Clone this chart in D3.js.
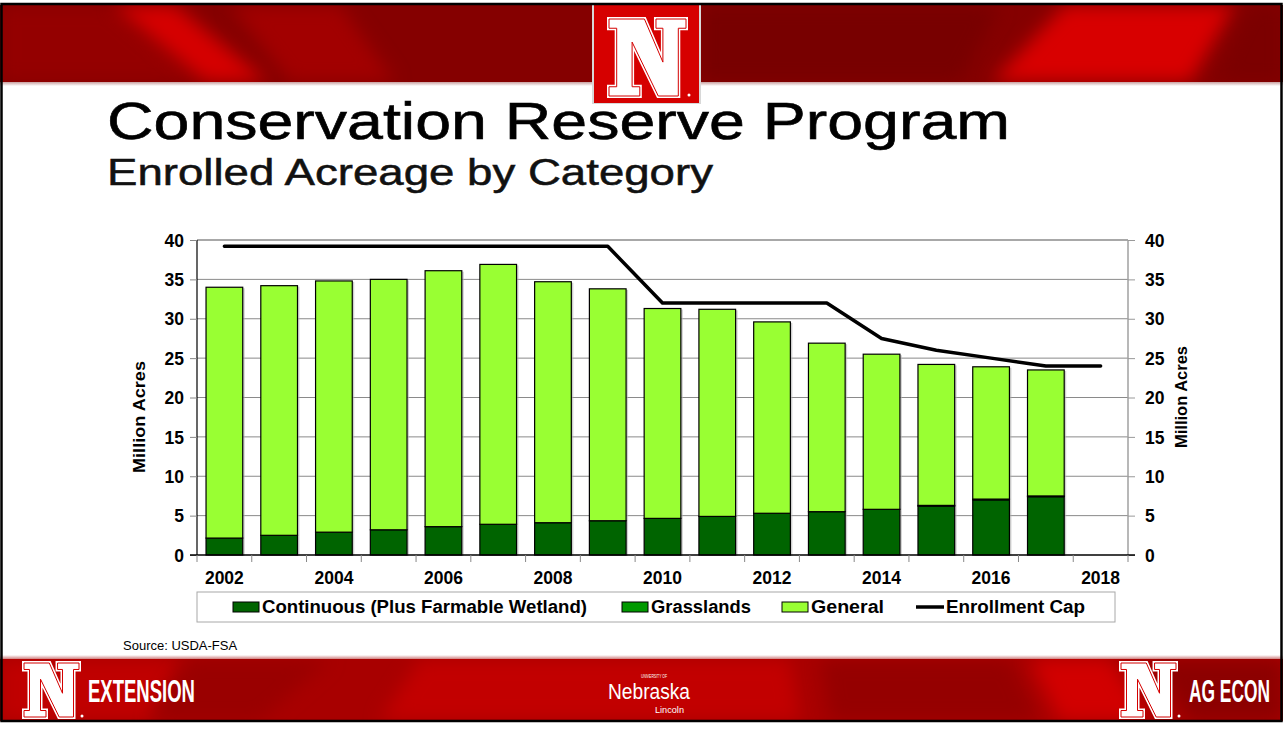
<!DOCTYPE html>
<html><head><meta charset="utf-8">
<script src="https://cdn.jsdelivr.net/npm/d3@7"></script>
<style>
body{margin:0;background:#fff}
svg{display:block}
text{font-family:Arial,"Liberation Sans",sans-serif}
</style>
</head><body>
<svg id="c" width="1283" height="729"></svg>
<script>
// ---------------- data ----------------
const years = ["2002","2003","2004","2005","2006","2007","2008","2009","2010","2011","2012","2013","2014","2015","2016","2017","2018"];
const continuous = [2.15,2.5,2.9,3.2,3.6,3.9,4.1,4.35,4.65,4.9,5.3,5.5,5.8,6.2,7.0,7.4,0];
const grasslands = [0,0,0,0,0,0,0,0,0,0,0,0,0,0.1,0.1,0.1,0];
const general    = [31.85,31.7,31.9,31.8,32.5,33.0,30.6,29.45,26.65,26.3,24.3,21.4,19.7,17.9,16.8,16.0,0];
const enrollmentCap = [39.2,39.2,39.2,39.2,39.2,39.2,39.2,39.2,32,32,32,32,27.5,26,25,24,24];
const yTicks = [0,5,10,15,20,25,30,35,40];
const xTickLabels = ["2002","2004","2006","2008","2010","2012","2014","2016","2018"];
const seriesNames = ["Continuous (Plus Farmable Wetland)","Grasslands","General","Enrollment Cap"];
const seriesColors = ["#006400","#009900","#99ff33","#000000"];

const svg = d3.select("#c");
const W = 1283, H = 729;

// ---------------- defs ----------------
const defs = svg.append("defs");
const blur = defs.append("filter").attr("id","blur").attr("x","-50%").attr("y","-50%").attr("width","200%").attr("height","200%");
blur.append("feGaussianBlur").attr("stdDeviation",9);
defs.append("clipPath").attr("id","hclip").append("rect").attr("x",0).attr("y",5).attr("width",W).attr("height",77);
defs.append("clipPath").attr("id","fclip").append("rect").attr("x",0).attr("y",659).attr("width",W).attr("height",62);
const shade = defs.append("linearGradient").attr("id","hshade").attr("x1",0).attr("y1",0).attr("x2",0).attr("y2",1);
shade.append("stop").attr("offset",0).attr("stop-color","#c9a0a0");
shade.append("stop").attr("offset",1).attr("stop-color","#ffffff");
const fshade = defs.append("linearGradient").attr("id","fshade").attr("x1",0).attr("y1",0).attr("x2",0).attr("y2",1);
fshade.append("stop").attr("offset",0).attr("stop-color","#ffffff");
fshade.append("stop").attr("offset",1).attr("stop-color","#d08080");

// ---------------- header banner ----------------
const hdr = svg.append("g").attr("clip-path","url(#hclip)");
hdr.append("rect").attr("x",0).attr("y",5).attr("width",W).attr("height",77).attr("fill","#850000");
const hpolys = [
  {p:[[0,5],[110,5],[200,82],[0,82]], c:"#940000"},
  {p:[[112,5],[175,5],[268,82],[205,82]], c:"#d60000"},
  {p:[[230,5],[340,5],[395,82],[290,82]], c:"#a20000"},
  {p:[[700,5],[1000,5],[960,82],[700,82]], c:"#780000"},
  {p:[[1065,5],[1235,5],[1190,82],[992,82]], c:"#d80000"},
  {p:[[1250,5],[1283,5],[1283,82],[1215,82]], c:"#7c0000"}
];
hdr.selectAll("polygon").data(hpolys).join("polygon")
  .attr("points",d=>d.p.map(q=>q.join(",")).join(" "))
  .attr("fill",d=>d.c).attr("filter","url(#blur)");
svg.append("rect").attr("x",0).attr("y",82).attr("width",W).attr("height",4).attr("fill","url(#hshade)");

// ---------------- footer banner ----------------
const ftr = svg.append("g").attr("clip-path","url(#fclip)");
ftr.append("rect").attr("x",0).attr("y",659).attr("width",W).attr("height",62).attr("fill","#a80000");
const fpolys = [
  {p:[[0,659],[180,659],[150,721],[0,721]], c:"#c00000"},
  {p:[[190,659],[330,659],[260,721],[150,721]], c:"#9a0000"},
  {p:[[420,659],[790,659],[800,721],[380,721]], c:"#c20000"},
  {p:[[820,659],[1010,659],[1040,721],[830,721]], c:"#950000"},
  {p:[[1030,659],[1110,659],[1150,721],[1060,721]], c:"#d20000"},
  {p:[[1150,659],[1283,659],[1283,721],[1190,721]], c:"#8c0000"}
];
ftr.selectAll("polygon").data(fpolys).join("polygon")
  .attr("points",d=>d.p.map(q=>q.join(",")).join(" "))
  .attr("fill",d=>d.c).attr("filter","url(#blur)");
svg.append("rect").attr("x",0).attr("y",655).attr("width",W).attr("height",4).attr("fill","url(#fshade)");

// ---------------- N logo ----------------
const nPts = [[0,0],[46,0],[70,56],[70,12],[61,12],[61,0],[100,0],[100,12],[90,12],[90,100],[64,100],[30,30],[30,88],[40,88],[40,100],[0,100],[0,88],[10,88],[10,12],[0,12]];
function drawN(g, x, y, w, h){
  const sx = w/100, sy = h/100;
  const pts = nPts.map(p=>[x+p[0]*sx, y+p[1]*sy].join(",")).join(" ");
  g.append("polygon").attr("points",pts).attr("fill","#fff").attr("stroke","#fff").attr("stroke-width",4).attr("stroke-linejoin","miter");
  g.append("polygon").attr("points",pts).attr("fill","#fff").attr("stroke","#d40000").attr("stroke-width",1);
  g.append("circle").attr("cx",x+w+3).attr("cy",y+h-1).attr("r",1.5).attr("fill","#fff");
}
// center box
svg.append("rect").attr("x",592).attr("y",3).attr("width",109).attr("height",101).attr("fill","#d8d8d8");
svg.append("rect").attr("x",594).attr("y",5).attr("width",105).attr("height",98).attr("fill","#d60000");
drawN(svg, 609, 19, 77, 77);
// footer logos
drawN(svg, 24, 663, 55, 54);
drawN(svg, 1121, 663, 55, 54);

svg.append("text").attr("transform","translate(88,702) scale(1,1.75)").attr("fill","#fff")
  .attr("font-family","Liberation Sans").attr("font-weight","bold").attr("font-size",18)
  .attr("textLength",107).attr("lengthAdjust","spacingAndGlyphs").text("EXTENSION");
svg.append("text").attr("transform","translate(1189,702) scale(1,1.75)").attr("fill","#fff")
  .attr("font-family","Liberation Sans").attr("font-weight","bold").attr("font-size",18)
  .attr("textLength",81).attr("lengthAdjust","spacingAndGlyphs").text("AG ECON");
svg.append("text").attr("x",608).attr("y",699).attr("fill","#fff")
  .attr("font-family","Liberation Serif").attr("font-size",22)
  .attr("textLength",82).attr("lengthAdjust","spacingAndGlyphs").text("Nebraska");
svg.append("text").attr("x",641).attr("y",678).attr("fill","#fff")
  .attr("font-family","Liberation Serif").attr("font-size",5)
  .attr("textLength",26).attr("lengthAdjust","spacingAndGlyphs").text("UNIVERSITY OF");
svg.append("text").attr("x",655).attr("y",713).attr("fill","#fff")
  .attr("font-family","Liberation Serif").attr("font-size",9)
  .attr("textLength",29).attr("lengthAdjust","spacingAndGlyphs").text("Lincoln");

// ---------------- frame ----------------
svg.append("rect").attr("x",1.5).attr("y",4).attr("width",1280).attr("height",717)
  .attr("fill","none").attr("stroke","#000").attr("stroke-width",2.5);

// ---------------- titles ----------------
svg.append("text").attr("x",107).attr("y",139).attr("fill","#000").attr("stroke","#000").attr("stroke-width",0.6)
  .attr("font-family","DejaVu Sans").attr("font-size",52)
  .attr("textLength",903).attr("lengthAdjust","spacingAndGlyphs").text("Conservation Reserve Program");
svg.append("text").attr("x",107).attr("y",185).attr("fill","#111").attr("stroke","#111").attr("stroke-width",0.5)
  .attr("font-family","DejaVu Sans").attr("font-size",36)
  .attr("textLength",606).attr("lengthAdjust","spacingAndGlyphs").text("Enrolled Acreage by Category");

// ---------------- chart ----------------
const L = 197, R = 1128, T = 240, B = 555;
const x = d3.scaleBand().domain(years).range([L,R]).paddingInner(0.33).paddingOuter(0.165);
const y = d3.scaleLinear().domain([0,40]).range([B,T]);
const plot = svg.append("g");

// gridlines
plot.selectAll("line.grid").data(yTicks.filter(t=>t>0)).join("line")
  .attr("x1",L).attr("x2",R).attr("y1",d=>y(d)).attr("y2",d=>y(d))
  .attr("stroke",d=>d===40?"#a8a8a8":"#8a8a8a").attr("stroke-width",d=>d===40?2:1);
plot.append("line").attr("x1",R).attr("x2",R).attr("y1",T).attr("y2",B).attr("stroke","#a0a0a0").attr("stroke-width",1.5);

// stacked bars
const table = years.map((yr,i)=>({year:yr, c:continuous[i], g:grasslands[i], n:general[i]}));
const stack = d3.stack().keys(["c","g","n"])(table);
const colorByKey = {c:seriesColors[0], g:seriesColors[1], n:seriesColors[2]};
stack.forEach(layer=>{
  const pts = layer.filter(d=>d[1]-d[0]>0);
  plot.append("g").selectAll("rect").data(pts).join("rect")
    .attr("x",d=>x(d.data.year)+2).attr("y",d=>y(d[1])+1)
    .attr("width",x.bandwidth()).attr("height",d=>y(d[0])-y(d[1]))
    .attr("fill","#b0b0b0").attr("opacity",0.6);
});
stack.forEach(layer=>{
  const pts = layer.filter(d=>d[1]-d[0]>0);
  plot.append("g").selectAll("rect").data(pts).join("rect")
    .attr("x",d=>x(d.data.year)).attr("y",d=>y(d[1]))
    .attr("width",x.bandwidth()).attr("height",d=>y(d[0])-y(d[1]))
    .attr("fill",colorByKey[layer.key]).attr("stroke","#000").attr("stroke-width",1.2);
});

// enrollment cap line
const line = d3.line().x((d,i)=>x(years[i])+x.bandwidth()/2).y(d=>y(d));
plot.append("path").datum(enrollmentCap).attr("d",line)
  .attr("fill","none").attr("stroke","#000").attr("stroke-width",3.5).attr("stroke-linecap","round").attr("stroke-linejoin","round");

// left axis
const yl = d3.axisLeft(y).tickValues(yTicks).tickSize(7).tickPadding(6);
const gyl = svg.append("g").attr("transform",`translate(${L},0)`).call(yl);
gyl.select(".domain").attr("stroke","#000").attr("stroke-width",1.2).attr("d",`M0,${T}V${B}`);
gyl.selectAll(".tick line").attr("stroke","#888");
gyl.selectAll(".tick text").attr("font-size",17.5).attr("font-weight","bold").attr("fill","#000").attr("dy","0.35em");
// right axis
const yr = d3.axisRight(y).tickValues(yTicks).tickSize(7).tickPadding(10);
const gyr = svg.append("g").attr("transform",`translate(${R},0)`).call(yr);
gyr.select(".domain").remove();
gyr.selectAll(".tick line").attr("stroke","#999");
gyr.selectAll(".tick text").attr("font-size",17.5).attr("font-weight","bold").attr("fill","#000").attr("dy","0.35em");

// bottom axis
const boundaries = years.map(yr=>x(yr)-x.step()*x.paddingInner()/2).concat([R]);
svg.append("line").attr("x1",L-7).attr("x2",R+7).attr("y1",B).attr("y2",B).attr("stroke","#000").attr("stroke-width",1.5);
svg.selectAll("line.xt").data(boundaries).join("line")
  .attr("x1",d=>d).attr("x2",d=>d).attr("y1",B).attr("y2",B+7).attr("stroke","#888");
svg.selectAll("text.xl").data(xTickLabels).join("text")
  .attr("x",d=>x(d)+x.bandwidth()/2).attr("y",584).attr("text-anchor","middle")
  .attr("font-size",17.5).attr("font-weight","bold").attr("fill","#000").text(d=>d);

// axis titles
svg.append("text").attr("transform","translate(145,417) rotate(-90)").attr("text-anchor","middle")
  .attr("font-size",17).attr("font-weight","bold").attr("textLength",112).attr("lengthAdjust","spacingAndGlyphs").text("Million Acres");
svg.append("text").attr("transform","translate(1187,397) rotate(-90)").attr("text-anchor","middle")
  .attr("font-size",17).attr("font-weight","bold").attr("textLength",102).attr("lengthAdjust","spacingAndGlyphs").text("Million Acres");

// legend
const lg = svg.append("g");
lg.append("rect").attr("x",197).attr("y",592).attr("width",918).attr("height",30).attr("fill","#fff").attr("stroke","#a8a8a8");
const legendItems = [
  {name:seriesNames[0], color:seriesColors[0], sx:233, tx:262, tl:325},
  {name:seriesNames[1], color:seriesColors[1], sx:622, tx:651, tl:100},
  {name:seriesNames[2], color:seriesColors[2], sx:782, tx:811, tl:73},
  {name:seriesNames[3], color:seriesColors[3], sx:916, tx:946, tl:139, line:true}
];
legendItems.forEach(it=>{
  if(it.line){
    lg.append("line").attr("x1",it.sx).attr("x2",it.sx+28).attr("y1",607).attr("y2",607).attr("stroke","#000").attr("stroke-width",3.5);
  } else {
    lg.append("rect").attr("x",it.sx).attr("y",602).attr("width",26).attr("height",10).attr("fill",it.color).attr("stroke","#000").attr("stroke-width",1);
  }
  lg.append("text").attr("x",it.tx).attr("y",613).attr("font-size",17.5).attr("font-weight","bold").attr("fill","#000")
    .attr("textLength",it.tl).attr("lengthAdjust","spacingAndGlyphs").text(it.name);
});

// source
svg.append("text").attr("x",123).attr("y",650).attr("font-size",13).attr("fill","#000").text("Source: USDA-FSA");
</script>
</body></html>
